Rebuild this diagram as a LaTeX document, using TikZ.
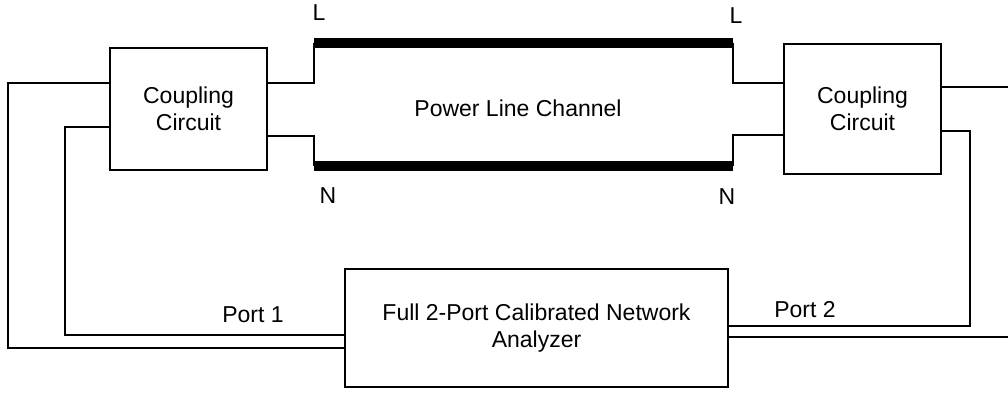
\documentclass[tikz,border=0pt]{standalone}
\usepackage{fontspec}
\setmainfont{Liberation Sans}
\begin{document}
\begin{tikzpicture}[x=1pt,y=-1pt,
	wire/.style={line width=1.6pt},
	busbar/.style={line width=10pt},
	block/.style={draw,line width=1.6pt,align=center,inner sep=0pt,font=\fontsize{23}{27}\selectfont},
	lbl/.style={inner sep=0pt,font=\fontsize{23}{27}\selectfont}]
	\useasboundingbox (0,0) rectangle (1008,392);
	% blocks
	\node [block,minimum width=157,minimum height=122] (cc1) at (188.5,109) {Coupling\\Circuit};
	\node [block,minimum width=157,minimum height=130] (cc2) at (862.5,109) {Coupling\\Circuit};
	\node [block,minimum width=383,minimum height=118] (vna) at (536.5,328) {Full 2-Port Calibrated Network\\Analyzer};
	% power line
	\coordinate (l1) at (314,43);
	\coordinate (l2) at (733,43);
	\coordinate (n1) at (314,166);
	\coordinate (n2) at (733,166);
	\draw [busbar] (l1) -- (l2);
	\draw [busbar] (n1) -- (n2);
	\node [lbl] (chan) at (518,108.5) {Power Line Channel};
	\node [lbl] (lt1) at (319,13) {L};
	\node [lbl] (lt2) at (736,16) {L};
	\node [lbl] (nt1) at (328,196) {N};
	\node [lbl] (nt2) at (727,197) {N};
	\draw [wire] (cc1.east |- 0,83) -| (l1);
	\draw [wire] (cc1.east |- 0,136) -| (n1);
	\draw [wire] (cc2.west |- 0,83) -| (l2);
	\draw [wire] (cc2.west |- 0,135) -| (n2);
	% analyzer ports
	\draw [wire] (cc1.west |- 0,83) -| (8,348) -- (vna.west |- 0,348);
	\draw [wire] (cc1.west |- 0,127) -| (65,335) -- (vna.west |- 0,335);
	\draw [wire] (cc2.east |- 0,87) -- (1008,87);
	\draw [wire] (cc2.east |- 0,131) -| (970,326) -- (vna.east |- 0,326);
	\draw [wire] (vna.east |- 0,337) -- (1008,337);
	\node [lbl] (p1) at (253,315) {Port 1};
	\node [lbl] (p2) at (805,310) {Port 2};
\end{tikzpicture}
\end{document}
